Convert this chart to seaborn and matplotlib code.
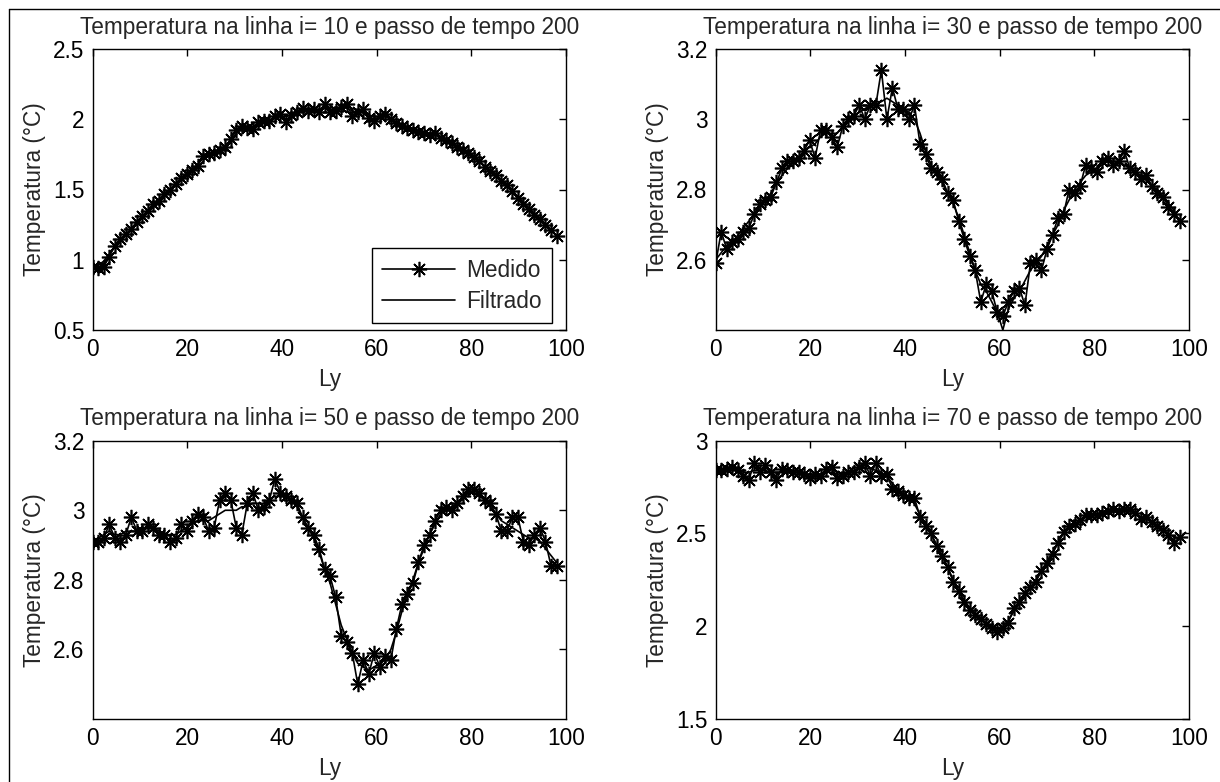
import numpy as np
import matplotlib
matplotlib.use("Agg")
import matplotlib.pyplot as plt
import seaborn as sns
from matplotlib.lines import Line2D

# ---------------- data ----------------
Ly = np.linspace(0, 98, 85)

linhas = [10, 30, 50, 70]

med_10 = [0.95, 0.94, 0.95, 1.02, 1.10, 1.15, 1.18, 1.22, 1.27, 1.31, 1.35, 1.40, 1.42, 1.47, 1.50, 1.54, 1.58,
          1.61, 1.64, 1.67, 1.74, 1.75, 1.76, 1.78, 1.80, 1.86, 1.92, 1.95, 1.94, 1.93, 1.98, 1.99, 1.99, 2.02,
          2.04, 1.98, 2.03, 2.05, 2.08, 2.06, 2.07, 2.05, 2.11, 2.05, 2.06, 2.09, 2.11, 2.02, 2.05, 2.07, 2.01,
          1.99, 2.02, 2.04, 2.00, 1.97, 1.95, 1.94, 1.92, 1.91, 1.90, 1.89, 1.90, 1.87, 1.85, 1.83, 1.80, 1.78,
          1.76, 1.73, 1.70, 1.66, 1.63, 1.60, 1.56, 1.53, 1.49, 1.44, 1.40, 1.36, 1.32, 1.29, 1.25, 1.21, 1.17]
fil_10 = [0.95, 0.96, 0.99, 1.04, 1.09, 1.14, 1.18, 1.22, 1.27, 1.31, 1.35, 1.39, 1.43, 1.47, 1.50, 1.54, 1.58,
          1.61, 1.64, 1.68, 1.72, 1.75, 1.77, 1.79, 1.81, 1.85, 1.90, 1.93, 1.94, 1.95, 1.97, 1.98, 1.99, 2.01,
          2.02, 2.02, 2.03, 2.05, 2.06, 2.06, 2.07, 2.07, 2.08, 2.07, 2.07, 2.08, 2.08, 2.06, 2.05, 2.05, 2.03,
          2.02, 2.02, 2.02, 2.00, 1.98, 1.96, 1.94, 1.93, 1.92, 1.91, 1.90, 1.89, 1.87, 1.85, 1.83, 1.81, 1.78,
          1.76, 1.73, 1.70, 1.67, 1.63, 1.60, 1.56, 1.53, 1.49, 1.45, 1.41, 1.37, 1.33, 1.29, 1.25, 1.21, 1.17]

med_30 = [2.59, 2.68, 2.63, 2.65, 2.66, 2.68, 2.69, 2.73, 2.76, 2.77, 2.78, 2.82, 2.86, 2.88, 2.88, 2.89, 2.91,
          2.94, 2.89, 2.97, 2.97, 2.95, 2.92, 2.98, 3.00, 3.01, 3.04, 3.00, 3.04, 3.04, 3.14, 3.00, 3.09, 3.03,
          3.03, 3.00, 3.04, 2.93, 2.90, 2.86, 2.85, 2.83, 2.79, 2.77, 2.71, 2.66, 2.61, 2.57, 2.48, 2.53, 2.51,
          2.45, 2.44, 2.48, 2.51, 2.52, 2.47, 2.59, 2.60, 2.57, 2.63, 2.67, 2.72, 2.73, 2.80, 2.79, 2.81, 2.87,
          2.86, 2.85, 2.88, 2.89, 2.87, 2.88, 2.91, 2.86, 2.85, 2.83, 2.84, 2.81, 2.79, 2.78, 2.75, 2.73, 2.71]
fil_30 = [2.60, 2.62, 2.64, 2.65, 2.67, 2.69, 2.71, 2.73, 2.75, 2.77, 2.79, 2.82, 2.84, 2.86, 2.87, 2.89, 2.91,
          2.92, 2.93, 2.95, 2.96, 2.96, 2.96, 2.98, 3.00, 3.01, 3.02, 3.03, 3.04, 3.05, 3.05, 3.06, 3.05, 3.04,
          3.03, 3.02, 3.00, 2.96, 2.91, 2.87, 2.84, 2.82, 2.79, 2.76, 2.72, 2.67, 2.62, 2.57, 2.53, 2.51, 2.48,
          2.45, 2.40, 2.46, 2.49, 2.51, 2.54, 2.57, 2.59, 2.61, 2.64, 2.67, 2.70, 2.74, 2.77, 2.80, 2.82, 2.84,
          2.85, 2.86, 2.87, 2.88, 2.88, 2.88, 2.87, 2.86, 2.85, 2.84, 2.83, 2.81, 2.80, 2.78, 2.76, 2.74, 2.71]

med_50 = [2.91, 2.91, 2.92, 2.96, 2.92, 2.91, 2.93, 2.98, 2.94, 2.94, 2.96, 2.95, 2.93, 2.93, 2.91, 2.92, 2.96,
          2.94, 2.97, 2.99, 2.98, 2.94, 2.95, 3.03, 3.05, 3.03, 2.95, 2.93, 3.02, 3.05, 3.00, 3.01, 3.03, 3.09,
          3.05, 3.04, 3.03, 3.02, 2.98, 2.95, 2.93, 2.89, 2.83, 2.81, 2.75, 2.64, 2.62, 2.59, 2.50, 2.57, 2.53,
          2.59, 2.55, 2.58, 2.57, 2.66, 2.73, 2.76, 2.79, 2.85, 2.90, 2.93, 2.97, 3.00, 3.01, 3.00, 3.02, 3.04,
          3.06, 3.06, 3.05, 3.03, 3.02, 2.99, 2.94, 2.94, 2.98, 2.98, 2.91, 2.90, 2.93, 2.95, 2.91, 2.84, 2.84]
fil_50 = [2.91, 2.92, 2.93, 2.94, 2.93, 2.93, 2.94, 2.94, 2.94, 2.95, 2.95, 2.95, 2.94, 2.93, 2.93, 2.93, 2.94,
          2.95, 2.96, 2.97, 2.97, 2.97, 2.98, 2.99, 3.00, 3.00, 3.00, 3.01, 3.01, 3.02, 3.02, 3.02, 3.03, 3.04,
          3.04, 3.04, 3.03, 3.01, 2.98, 2.95, 2.92, 2.88, 2.83, 2.79, 2.73, 2.67, 2.63, 2.59, 2.56, 2.55, 2.54,
          2.55, 2.56, 2.57, 2.60, 2.65, 2.71, 2.76, 2.80, 2.85, 2.89, 2.93, 2.96, 2.99, 3.00, 3.01, 3.02, 3.03,
          3.05, 3.05, 3.04, 3.03, 3.01, 2.99, 2.97, 2.96, 2.95, 2.94, 2.93, 2.92, 2.92, 2.91, 2.89, 2.87, 2.85]

med_70 = [2.84, 2.84, 2.85, 2.86, 2.84, 2.81, 2.79, 2.88, 2.83, 2.87, 2.83, 2.79, 2.85, 2.84, 2.83, 2.83, 2.82,
          2.80, 2.82, 2.81, 2.85, 2.86, 2.80, 2.81, 2.83, 2.83, 2.86, 2.88, 2.81, 2.88, 2.81, 2.82, 2.74, 2.73,
          2.71, 2.69, 2.69, 2.59, 2.54, 2.50, 2.43, 2.38, 2.32, 2.24, 2.19, 2.13, 2.09, 2.06, 2.04, 2.01, 1.99,
          1.97, 1.99, 2.02, 2.10, 2.13, 2.18, 2.21, 2.24, 2.30, 2.34, 2.39, 2.45, 2.51, 2.54, 2.55, 2.57, 2.60,
          2.60, 2.60, 2.61, 2.62, 2.63, 2.62, 2.63, 2.63, 2.61, 2.58, 2.59, 2.56, 2.54, 2.52, 2.49, 2.45, 2.48]
fil_70 = [2.84, 2.84, 2.85, 2.85, 2.84, 2.83, 2.83, 2.84, 2.84, 2.84, 2.83, 2.83, 2.83, 2.83, 2.83, 2.83, 2.82,
          2.82, 2.82, 2.82, 2.83, 2.83, 2.82, 2.82, 2.83, 2.84, 2.85, 2.85, 2.85, 2.84, 2.83, 2.81, 2.77, 2.74,
          2.71, 2.69, 2.66, 2.60, 2.55, 2.50, 2.44, 2.38, 2.32, 2.25, 2.19, 2.14, 2.10, 2.07, 2.04, 2.02, 2.00,
          1.99, 2.00, 2.03, 2.08, 2.12, 2.17, 2.21, 2.25, 2.30, 2.35, 2.40, 2.45, 2.50, 2.53, 2.55, 2.57, 2.59,
          2.60, 2.60, 2.61, 2.62, 2.62, 2.62, 2.63, 2.62, 2.61, 2.59, 2.58, 2.56, 2.54, 2.52, 2.50, 2.48, 2.47]

medidos = [med_10, med_30, med_50, med_70]
filtrados = [fil_10, fil_30, fil_50, fil_70]
ylims = [(0.5, 2.5), (2.4, 3.2), (2.4, 3.2), (1.5, 3.0)]
yticks = [[0.5, 1, 1.5, 2, 2.5], [2.6, 2.8, 3.0, 3.2], [2.6, 2.8, 3.0, 3.2], [1.5, 2, 2.5, 3]]
ytlabels = [["0.5", "1", "1.5", "2", "2.5"], ["2.6", "2.8", "3", "3.2"],
            ["2.6", "2.8", "3", "3.2"], ["1.5", "2", "2.5", "3"]]
xticks = [0, 20, 40, 60, 80, 100]

# ---------------- style ----------------
sns.set_style("white")
plt.rcParams['font.family'] = ['Liberation Sans', 'DejaVu Sans']
FS = 16.3

W, H = 1220, 782
fig = plt.figure(figsize=(W / 100, H / 100), dpi=100)

# axes boxes in pixels: (left, top, right, bottom)
boxes = [(92.7, 49, 566, 330), (715.7, 49, 1189, 330),
         (92.7, 440.7, 566, 719), (715.7, 440.7, 1189, 719)]

asterisk = (8, 2, 0)

for i, (l, t, r, b) in enumerate(boxes):
    ax = fig.add_axes([l / W, 1 - b / H, (r - l) / W, (b - t) / H])
    sns.lineplot(x=Ly, y=medidos[i], ax=ax, color='k', marker=asterisk, markersize=11,
                 markeredgecolor='k', markeredgewidth=1.2, linewidth=1.2,
                 label='Medido', estimator=None, sort=False, legend=False)
    sns.lineplot(x=Ly, y=filtrados[i], ax=ax, color='k', linewidth=1.2,
                 label='Filtrado', estimator=None, sort=False, legend=False)
    ax.set_xlim(0, 100)
    ax.set_ylim(*ylims[i])
    ax.set_xticks(xticks)
    ax.set_xticklabels([str(v) for v in xticks])
    ax.set_yticks(yticks[i])
    ax.set_yticklabels(ytlabels[i])
    ax.tick_params(direction='in', top=True, right=True, length=5, width=1,
                   labelsize=FS, colors='k', pad=6)
    for s in ax.spines.values():
        s.set_visible(True)
        s.set_color('k')
        s.set_linewidth(1.0)
    ax.set_xlabel('Ly', fontsize=FS, labelpad=5)
    ax.set_ylabel('Temperatura (°C)', fontsize=FS, labelpad=5)
    ax.set_title(f'Temperatura na linha i= {linhas[i]} e passo de tempo 200', fontsize=FS, pad=11)
    if i == 0:
        leg = ax.legend(loc='lower right', bbox_to_anchor=(0.970, 0.026), borderaxespad=0,
                        fontsize=FS, fancybox=False, framealpha=1, edgecolor='k',
                        handlelength=3.2, handletextpad=0.5, borderpad=0.45, labelspacing=0.35)
        leg.get_frame().set_linewidth(1.0)
    else:
        lg = ax.get_legend()
        if lg is not None:
            lg.remove()

# outer frame (left and top edges, as in the reference)
fig.add_artist(Line2D([8.5 / W, 8.5 / W], [0, 1 - 8.5 / H], transform=fig.transFigure,
                      color='k', linewidth=1.0))
fig.add_artist(Line2D([8.5 / W, 1], [1 - 8.5 / H, 1 - 8.5 / H], transform=fig.transFigure,
                      color='k', linewidth=1.0))

fig.savefig('out.png', dpi=100, facecolor='white')
